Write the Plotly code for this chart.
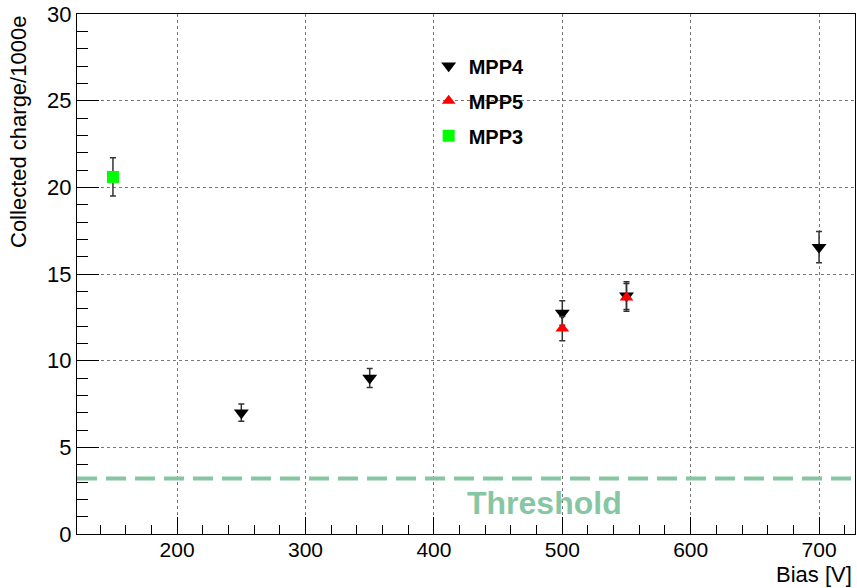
import plotly.graph_objects as go

# Data
mpp4_bias = [250, 350, 500, 550, 700]
mpp4_charge = [7.0, 9.0, 12.75, 13.75, 16.55]
mpp4_err = [0.5, 0.55, 0.7, 0.8, 0.9]

mpp5_bias = [500, 550]
mpp5_charge = [11.85, 13.65]
mpp5_err = [0.7, 0.8]

mpp3_bias = [150]
mpp3_charge = [20.6]
mpp3_err = [1.1]

threshold = 3.2

FONT = "Liberation Sans, Arial, sans-serif"
thr_color = "#86c6a2"

fig = go.Figure()

def add_series(x, y, e, name, symbol, color, size):
    fig.add_trace(go.Scatter(
        x=x, y=y, mode="markers", name=name, legendgroup=name,
        marker=dict(symbol=symbol, color=color, size=size, line=dict(width=0)),
        error_y=dict(type="data", array=e, visible=True, color="#333333",
                     thickness=1.5, width=3),
    ))

add_series(mpp4_bias, mpp4_charge, mpp4_err, "MPP4", "triangle-down", "black", 13)
add_series(mpp5_bias, mpp5_charge, mpp5_err, "MPP5", "triangle-up", "red", 12)
add_series(mpp3_bias, mpp3_charge, mpp3_err, "MPP3", "square", "#00ff00", 12)

fig.add_shape(type="line", xref="paper", yref="y", x0=0, x1=1,
              y0=threshold, y1=threshold,
              line=dict(color=thr_color, width=4, dash="20px,9px"))

fig.add_annotation(x=0.6015, y=threshold, xref="paper", yref="y", yshift=-24,
                   text="<b>Threshold</b>", showarrow=False,
                   font=dict(family=FONT, size=32, color=thr_color))

fig.add_annotation(xref="paper", yref="paper", x=1, xshift=-1, y=0, yshift=-26,
                   xanchor="right", yanchor="top", text="Bias [V]",
                   showarrow=False, font=dict(family=FONT, size=22, color="black"))

fig.add_annotation(xref="paper", yref="paper", x=0, xshift=-59, y=1,
                   xanchor="center", yanchor="top", textangle=-90,
                   text="Collected charge/1000e", showarrow=False,
                   font=dict(family=FONT, size=22, color="black"))

fig.update_layout(
    width=857, height=588,
    margin=dict(l=77, r=2, t=14, b=54, autoexpand=False),
    paper_bgcolor="white", plot_bgcolor="white",
    font=dict(family=FONT, size=22, color="black"),
    showlegend=True,
    legend=dict(x=0.452, y=0.938, xanchor="left", yanchor="top",
                bgcolor="rgba(0,0,0,0)", borderwidth=0,
                font=dict(family=FONT, size=20, color="black", weight="bold"),
                tracegroupgap=6, itemsizing="trace"),
)

fig.update_xaxes(
    range=[122, 728], tickvals=[200, 300, 400, 500, 600, 700],
    automargin=False,
    showline=True, linecolor="black", linewidth=1, mirror=True,
    ticks="inside", ticklen=17, tickcolor="black",
    ticklabelstandoff=-3,
    showgrid=True, gridcolor="#777777", griddash="dot", gridwidth=1,
    zeroline=False,
    minor=dict(dtick=20, tick0=0, ticks="inside", ticklen=9, tickcolor="black", showgrid=False),
    tickfont=dict(family=FONT, size=21),
)
fig.update_yaxes(
    range=[0, 30], tickvals=[0, 5, 10, 15, 20, 25, 30],
    automargin=False,
    showline=True, linecolor="black", linewidth=1, mirror=True,
    ticks="inside", ticklen=22, tickcolor="black",
    showgrid=True, gridcolor="#777777", griddash="dot", gridwidth=1,
    zeroline=False,
    minor=dict(dtick=1, tick0=0, ticks="inside", ticklen=11, tickcolor="black", showgrid=False),
    tickfont=dict(family=FONT, size=22),
)

fig.write_html("out.html", config={"displayModeBar": False},
               post_script="document.body.style.margin='0';document.body.style.padding='0';")
